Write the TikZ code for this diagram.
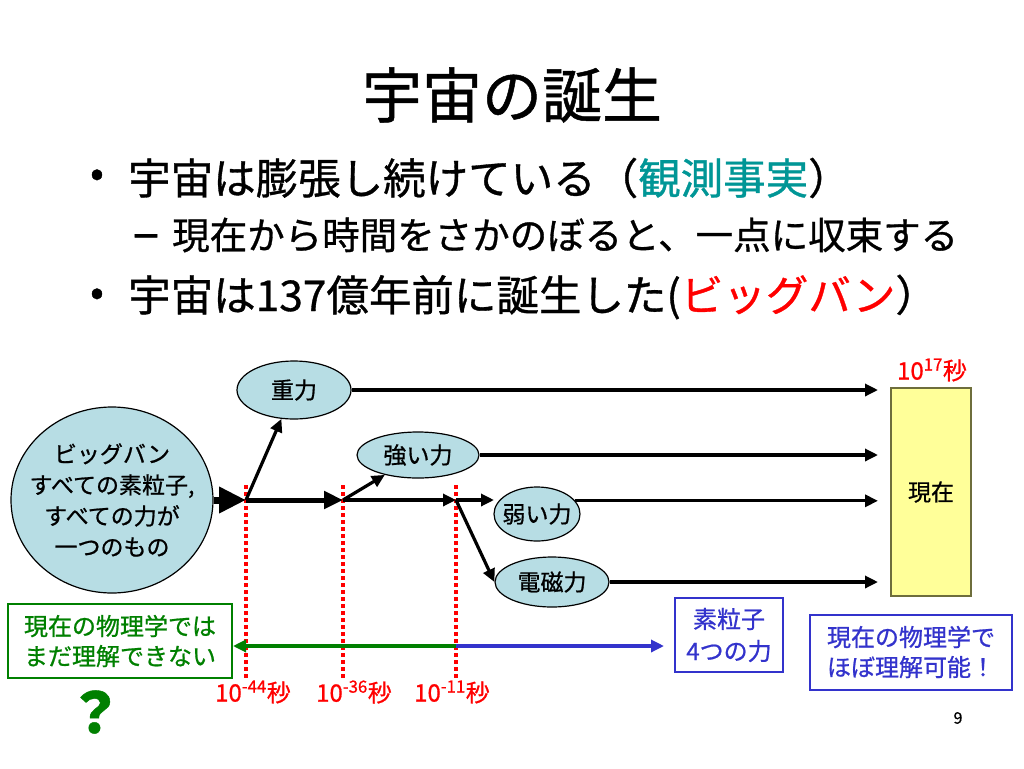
\documentclass[tikz,border=0pt]{standalone}
\usepackage{fontspec}
\setmainfont{Noto Sans CJK JP}[FakeBold=0.8]
\usetikzlibrary{shapes.geometric,arrows.meta}
\definecolor{ellblue}{RGB}{183,221,228}
\definecolor{nowyellow}{RGB}{255,255,153}
\definecolor{nowborder}{RGB}{110,110,60}
\definecolor{obsteal}{RGB}{0,150,150}
\definecolor{pred}{RGB}{255,0,0}
\definecolor{pgreen}{RGB}{0,128,0}
\definecolor{pblue}{RGB}{51,51,204}
\begin{document}
\begin{tikzpicture}[x=1pt,y=-1pt,
  force/.style={ellipse,draw=black,line width=1.2pt,fill=ellblue,inner sep=0pt},
  forcetext/.style={inner sep=0pt,font=\fontsize{23}{31}\selectfont,align=center},
  thinarrow/.style={line width=3.2pt,-{Triangle[length=13pt,width=12pt]}},
  timeline/.style={draw=pred,line width=3.5pt,dash pattern=on 3.5pt off 3.5pt},
  timelabel/.style={text=pred,font=\fontsize{24}{26}\selectfont,inner sep=0pt},
  greenbox/.style={draw=pgreen,line width=2pt,text=pgreen,inner sep=0pt,align=left,font=\fontsize{24}{30}\selectfont},
  bluebox/.style={draw=pblue,line width=2pt,text=pblue,inner sep=0pt,align=center,font=\fontsize{24}{32}\selectfont}]
\useasboundingbox (0,0) rectangle (1024,768);
\fill[white] (0,0) rectangle (1024,768);

% title and bullets
\node (title) at (512,95) {\fontsize{60}{64}\selectfont 宇宙の誕生};
\node (dot1) at (97,178) {\fontsize{40}{44}\selectfont •};
\node[anchor=west,inner sep=0pt] (b1) at (128,178) {\fontsize{42.5}{44}\selectfont 宇宙は膨張し続けている（\textcolor{obsteal}{観測事実}）};
\node (dash2) at (146,242) {\fontsize{50}{52}\selectfont –};
\node[anchor=west,inner sep=0pt] (b2) at (172,235) {\fontsize{37.5}{40}\selectfont 現在から時間をさかのぼると、一点に収束する};
\node (dot3) at (97,297) {\fontsize{40}{44}\selectfont •};
\node[anchor=west,inner sep=0pt] (b3) at (128,297) {\fontsize{42.5}{44}\selectfont 宇宙は137億年前に誕生した(\textcolor{pred}{ビッグバン}）};

% force nodes
\node[force,minimum width=202pt,minimum height=186pt] (bb) at (112,500) {};
\node[forcetext] (bbt) at (bb) {ビッグバン\\すべての素粒子,\\すべての力が\\一つのもの};
\node[force,minimum width=114pt,minimum height=58pt] (grav) at (294,390) {};
\node[forcetext] (gravt) at (grav) {重力};
\node[force,minimum width=122pt,minimum height=46pt] (strong) at (418,455) {};
\node[forcetext] (strongt) at (strong) {強い力};
\node[force,minimum width=86pt,minimum height=54pt] (weak) at (537,514) {};
\node[forcetext] (weakt) at (weak) {弱い力};
\node[force,minimum width=114pt,minimum height=50pt] (em) at (552,582) {};
\node[forcetext] (emt) at (em) {電磁力};
\node[draw=nowborder,line width=1.2pt,fill=nowyellow,minimum width=80pt,minimum height=208pt,inner sep=0pt,font=\fontsize{23}{28}\selectfont] (now) at (931,492) {現在};
\node[timelabel] (t17) at (932,370) {10\textsuperscript{17}秒};

% branch points
\coordinate (c1) at (246,500);
\coordinate (c2) at (343,500);
\coordinate (c3) at (456,500);
\coordinate (w0) at (494,500);
\coordinate (e) at (878,0);
\coordinate (c1b) at (246,680);
\coordinate (c2b) at (343,680);
\coordinate (c3b) at (456,680);
\coordinate (c1t) at (246,485);
\coordinate (c2t) at (343,485);
\coordinate (c3t) at (456,485);

% timelines
\draw[timeline] (c1t) -- (c1b);
\draw[timeline] (c2t) -- (c2b);
\draw[timeline] (c3t) -- (c3b);
\node[timelabel] (l1) at (253,692) {10\textsuperscript{-44}秒};
\node[timelabel] (l2) at (354,692) {10\textsuperscript{-36}秒};
\node[timelabel] (l3) at (452,692) {10\textsuperscript{-11}秒};

% arrows
\draw[line width=7pt,-{Triangle[length=27pt,width=25pt]}] (bb.east) -- (c1);
\draw[line width=5pt,-{Triangle[length=19pt,width=17pt]}] (c1) -- (c2);
\draw[thinarrow] (c2) -- (c3);
\draw[thinarrow] (c1) -- (grav);
\draw[thinarrow] (c2) -- (strong);
\draw[thinarrow] (c3) -- (w0);
\draw[thinarrow] (c3) -- (em.west);
\draw[thinarrow] (grav.east) -- (grav.east -| e);
\draw[thinarrow] (strong.east) -- (strong.east -| e);
\draw[thinarrow] (weak.19) -- (weak.19 -| e);
\draw[thinarrow] (em.east) -- (em.east -| e);

% bottom boxes
\node[greenbox,minimum width=224pt,minimum height=74pt] (gbox) at (120,641) {現在の物理学では\\まだ理解できない};
\node[bluebox,minimum width=108pt,minimum height=74pt] (pbox) at (729,635) {素粒子\\4つの力};
\node[bluebox,minimum width=202pt,minimum height=75pt,font=\fontsize{24}{30}\selectfont] (qbox) at (911,652) {現在の物理学で\\ほぼ理解可能！};
\coordinate (m3) at (456,646);
\draw[pgreen,line width=3.2pt,-{Triangle[length=13pt,width=12pt]}] (m3) -- (m3 -| gbox.east);
\draw[pblue,line width=3.2pt,-{Triangle[length=13pt,width=12pt]},shorten >=10pt] (m3) -- (m3 -| pbox.west);
\node[text=pgreen,font=\fontsize{56}{60}\selectfont\bfseries] (q) at (95,712) {？};
\node[font=\fontsize{16}{18}\selectfont] (pg) at (958,718) {9};
\end{tikzpicture}
\end{document}
